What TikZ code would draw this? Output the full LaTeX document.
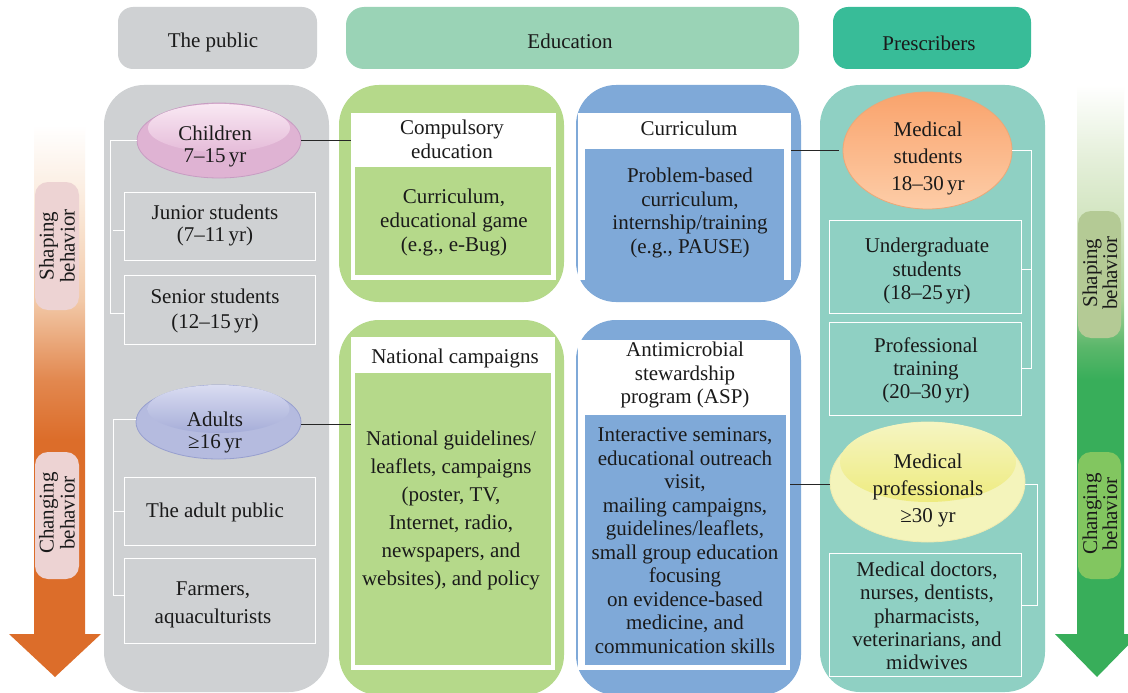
\documentclass[tikz,border=0pt]{standalone}
\usepackage{fontspec}
\setmainfont{Liberation Serif}
\usetikzlibrary{shapes.geometric}
\definecolor{cgrey}{HTML}{CFD1D3}
\definecolor{cedu}{HTML}{9AD3B6}
\definecolor{cpres}{HTML}{38BC98}
\definecolor{cteal}{HTML}{8FD0C3}
\definecolor{cgreen}{HTML}{B5D98A}
\definecolor{cblue}{HTML}{7FA9D8}
\definecolor{ctext}{HTML}{1A1A1A}
\definecolor{pillpink}{HTML}{EDD3D3}
\definecolor{pillolive}{HTML}{B4CA95}
\definecolor{pillgreen}{HTML}{82C660}
\definecolor{chline}{HTML}{C79CC2}
\definecolor{chfill}{HTML}{DFB3D3}
\definecolor{chtop}{HTML}{F9E8F3}
\definecolor{chbot}{HTML}{E5BCD9}
\definecolor{adline}{HTML}{979FCF}
\definecolor{adfill}{HTML}{B5BBDF}
\definecolor{adtop}{HTML}{D9DCF1}
\definecolor{adbot}{HTML}{A6ADD8}
\definecolor{meline}{HTML}{EBA878}
\definecolor{metop}{HTML}{F9A36C}
\definecolor{mebot}{HTML}{FDCDA8}
\definecolor{prline}{HTML}{EFEBB0}
\definecolor{prfill}{HTML}{F4F4BB}
\definecolor{prtop}{HTML}{F5F5C2}
\definecolor{prbot}{HTML}{EEEB7E}
\pgfdeclareverticalshading{orangearrow}{100bp}{
  rgb(0bp)=(0.863,0.427,0.165);
  rgb(46.5bp)=(0.863,0.427,0.165);
  rgb(51.9bp)=(0.886,0.533,0.310);
  rgb(59.1bp)=(0.949,0.788,0.659);
  rgb(68.2bp)=(0.984,0.922,0.867);
  rgb(75bp)=(1,1,1);
  rgb(100bp)=(1,1,1)}
\pgfdeclareverticalshading{greenarrow}{100bp}{
  rgb(0bp)=(0.220,0.682,0.353);
  rgb(50.1bp)=(0.220,0.682,0.353);
  rgb(53bp)=(0.361,0.718,0.420);
  rgb(56.8bp)=(0.663,0.827,0.596);
  rgb(62.8bp)=(0.812,0.890,0.737);
  rgb(68.7bp)=(0.894,0.937,0.851);
  rgb(75bp)=(1,1,1);
  rgb(100bp)=(1,1,1)}
\tikzset{
  base/.style={anchor=north west,inner sep=0pt,outer sep=0pt},
  head/.style={base,rounded corners=15pt,fill=#1},
  panel/.style={base,rounded corners=40pt,fill=#1},
  plain/.style={base,fill=#1},
  wbox/.style={base,draw=white,line width=1pt},
  oval/.style={ellipse,inner sep=0pt,outer sep=0pt,line width=0.8pt},
  pill/.style={base,rounded corners=13pt,fill=#1},
  txt/.style={align=center,inner sep=0pt,text=ctext,font=\fontsize{21}{#1}\selectfont},
  rot/.style={align=center,inner sep=0pt,text=ctext,rotate=90,font=\fontsize{21}{#1}\selectfont},
  blk/.style={draw=black!85,line width=0.9pt},
  wht/.style={draw=white,line width=1pt}
}
\begin{document}
\begin{tikzpicture}[x=1pt,y=-1pt]
\useasboundingbox (0,0) rectangle (1128,693);
\fill[white] (0,0) rectangle (1128,693);

% arrows
\path[shading=orangearrow] (34,125) -- (85,125) -- (85,634) -- (101,634) -- (55,677) -- (9,634) -- (34,634) -- cycle;
\begin{scope}
\clip (0,0) rectangle (1128,693);
\path[shading=greenarrow] (1077,85) -- (1124,85) -- (1124,634) -- (1139,634) -- (1097,677) -- (1055,634) -- (1077,634) -- cycle;
\end{scope}

% pills
\node[pill=pillpink,minimum width=44pt,minimum height=128pt] (pill1) at (35,182) {};
\node[pill=pillpink,minimum width=44pt,minimum height=127pt] (pill2) at (35,452) {};
\node[pill=pillolive,minimum width=43pt,minimum height=127pt] (pill3) at (1078,211) {};
\node[pill=pillgreen,minimum width=43pt,minimum height=127pt] (pill4) at (1078,452) {};

% headers
\node[head=cgrey,minimum width=199pt,minimum height=62pt] (hpub) at (118,7) {};
\node[head=cedu,rounded corners=18pt,minimum width=453pt,minimum height=62pt] (hedu) at (346,7) {};
\node[head=cpres,minimum width=198pt,minimum height=62pt] (hpres) at (833,7) {};

% panels
\node[panel=cgrey,minimum width=225pt,minimum height=607pt] (ppub) at (104,85) {};
\node[panel=cgreen,minimum width=225pt,minimum height=217pt] (pg1) at (339,85) {};
\node[panel=cblue,minimum width=225pt,minimum height=217pt] (pb1) at (576,85) {};
\node[panel=cgreen,minimum width=225pt,minimum height=375pt] (pg2) at (339,320) {};
\node[panel=cblue,minimum width=225pt,minimum height=375pt] (pb2) at (576,320) {};
\node[panel=cteal,minimum width=225pt,minimum height=607pt] (ptea) at (820,85) {};

% white cards and inner fills
\node[plain=white,minimum width=205pt,minimum height=167pt] (w1) at (351,113) {};
\node[plain=cgreen,minimum width=196pt,minimum height=108pt] (i1) at (355,167) {};
\node[plain=white,minimum width=213pt,minimum height=167pt] (w2) at (578,113) {};
\node[plain=cblue,minimum width=199pt,minimum height=131pt] (i2) at (585,149) {};
\node[plain=white,minimum width=204pt,minimum height=333pt] (w3) at (351,337) {};
\node[plain=cgreen,minimum width=196pt,minimum height=292pt] (i3) at (355,373) {};
\node[plain=white,minimum width=212pt,minimum height=330pt] (w4) at (578,340) {};
\node[plain=cblue,minimum width=201pt,minimum height=250pt] (i4) at (585,415) {};

% outlined boxes
\node[wbox,minimum width=191pt,minimum height=68pt] (junior) at (124,192) {};
\node[wbox,minimum width=191pt,minimum height=69pt] (senior) at (124,275) {};
\node[wbox,minimum width=191pt,minimum height=68pt] (adultp) at (124,477) {};
\node[wbox,minimum width=191pt,minimum height=85pt] (farm) at (124,558) {};
\node[wbox,minimum width=192pt,minimum height=93pt] (under) at (829,220) {};
\node[wbox,minimum width=192pt,minimum height=93pt] (prof) at (829,322) {};
\node[wbox,minimum width=192pt,minimum height=123pt] (docs) at (829,553) {};

% ellipses with gloss
\node[oval,draw=chline,fill=chfill,minimum width=164pt,minimum height=75pt] (child) at (219,140.5) {};
\node[oval,top color=chtop,bottom color=chbot,minimum width=142pt,minimum height=48pt] (childg) at (219,128) {};
\node[oval,draw=adline,fill=adfill,minimum width=165pt,minimum height=74pt] (adult) at (218.5,422) {};
\node[oval,top color=adtop,bottom color=adbot,minimum width=142pt,minimum height=48pt] (adultg) at (218.5,409) {};
\node[oval,draw=meline,top color=metop,bottom color=mebot,minimum width=169pt,minimum height=117pt] (meds) at (927.5,150.5) {};
\node[oval,draw=prline,fill=prfill,minimum width=195pt,minimum height=120pt] (profs) at (927.5,482) {};
\node[oval,top color=prtop,bottom color=prbot,minimum width=176pt,minimum height=80pt] (profsg) at (928,462) {};

% white brackets
\draw[wht] (child.west) -- (110,140.5) |- ([yshift=-3.5pt]senior.west);
\draw[wht] (113,230) -- ([yshift=-4pt]junior.west);
\draw[wht] ([yshift=3pt]adult.west) -- (113,419) |- ([yshift=5.5pt]farm.west);
\draw[wht] (113,511) -- (adultp.west);
\draw[wht] (meds.east) -- (1031,150.5) |- (prof.east);
\draw[wht] (1031,269) -- ([yshift=-2.5pt]under.east);
\draw[wht] ([yshift=-2pt]profs.east) -- (1037,484) |- ([yshift=9.5pt]docs.east);

% black connectors
\draw[blk] (child.east) -- (w1.west |- child.east);
\draw[blk] ([yshift=-2pt]adult.east) -- ([yshift=-2pt]w3.west |- adult.east);
\draw[blk] (w2.east |- meds.west) -- ([xshift=-4pt]meds.west);
\draw[blk] ([yshift=-2pt]w4.east |- profs.west) -- ([yshift=-2pt]profs.west);

% labels
\node[txt=24] (tpub) at (213,42) {The public};
\node[txt=24] (tedu) at (570,41) {Education};
\node[txt=24] (tpres) at (929,43) {Prescribers};
\node[txt=22] (tchild) at (215,146) {Children\\7–15\,yr};
\node[txt=22] (tjun) at (215,225) {Junior students\\(7–11\,yr)};
\node[txt=25] (tsen) at (215,311) {Senior students\\(12–15\,yr)};
\node[txt=22] (tadu) at (215,432) {Adults\\≥16\,yr};
\node[txt=24] (tadp) at (215,512) {The adult public};
\node[txt=28] (tfar) at (213,605) {Farmers,\\aquaculturists};
\node[txt=24] (tcom) at (452,139) {Compulsory\\education};
\node[txt=24] (tcg) at (454,222) {Curriculum,\\educational game\\(e.g., e-Bug)};
\node[txt=24] (tnat) at (455,358) {National campaigns};
\node[txt=28] (tgui) at (451,510) {National guidelines/\\leaflets, campaigns\\(poster, TV,\\Internet, radio,\\newspapers, and\\websites), and policy};
\node[txt=24] (tcur) at (689,128) {Curriculum};
\node[txt=23.4] (tpbl) at (690,213) {Problem-based\\curriculum,\\internship/training\\(e.g., PAUSE)};
\node[txt=23.5] (tasp) at (685,375) {Antimicrobial\\stewardship\\program (ASP)};
\node[txt=23.5] (tint) at (685,540.5) {Interactive seminars,\\educational outreach\\visit,\\mailing campaigns,\\guidelines/leaflets,\\small group education\\focusing\\on evidence-based\\medicine, and\\communication skills};
\node[txt=27] (tmed) at (928,158) {Medical\\students\\18–30\,yr};
\node[txt=23.5] (tund) at (927,271) {Undergraduate\\students\\(18–25\,yr)};
\node[txt=23] (tpro) at (926,370) {Professional\\training\\(20–30\,yr)};
\node[txt=27] (tmpr) at (928,490) {Medical\\professionals\\≥30 yr};
\node[txt=23.4] (tdoc) at (927,616) {Medical doctors,\\nurses, dentists,\\pharmacists,\\veterinarians, and\\midwives};
\node[rot=21] (ts1) at (57,246) {Shaping\\behavior};
\node[rot=21] (ts2) at (57,513) {Changing\\behavior};
\node[rot=20] (ts3) at (1100,273) {Shaping\\behavior};
\node[rot=20] (ts4) at (1100,514) {Changing\\behavior};
\end{tikzpicture}
\end{document}
